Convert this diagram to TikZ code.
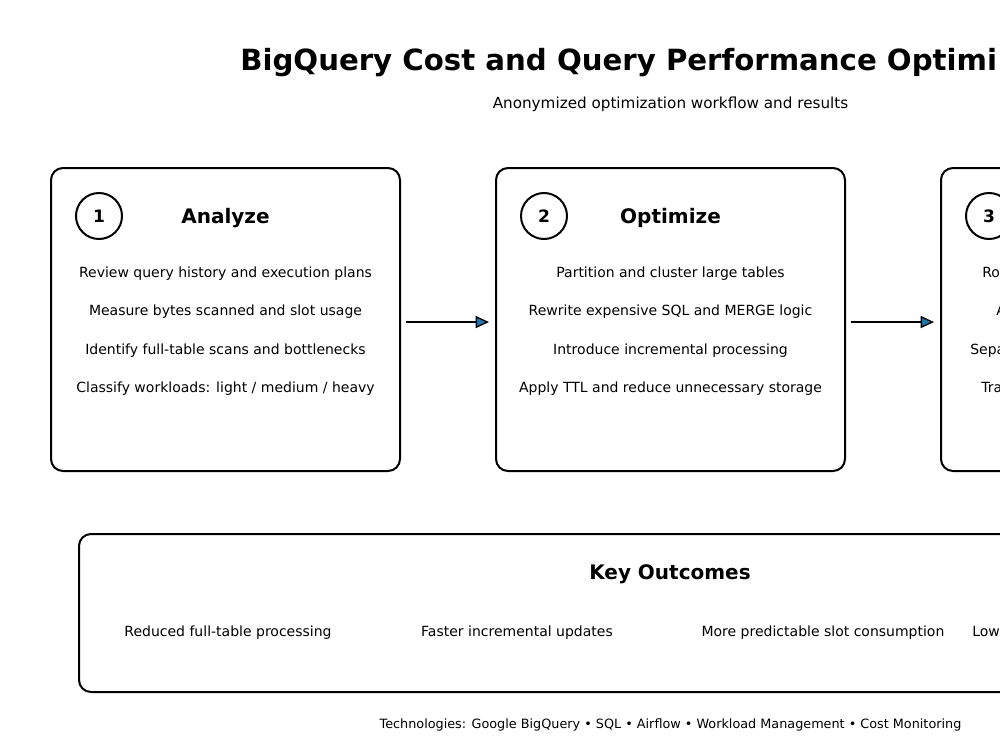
\documentclass[tikz,border=0pt]{standalone}
\usepackage{fontspec}
\setmainfont{DejaVu Sans}
\usetikzlibrary{arrows.meta}

\definecolor{tipblue}{HTML}{1F77B4}

\tikzset{
    stagebox/.style={draw, line width=1.5pt, rounded corners=9pt, minimum width=261.75pt, minimum height=227.25pt, inner sep=0pt},
    numcircle/.style={draw, circle, line width=1.5pt, minimum size=34.5pt, inner sep=0pt, font=\fontsize{12.8}{15}\selectfont\bfseries},
    headtext/.style={font=\fontsize{15}{18}\selectfont\bfseries},
    itemtext/.style={font=\fontsize{10.5}{12}\selectfont, text height=8pt, text depth=2.4pt},
    flow/.style={line width=1.5pt, -{Triangle[length=10pt, width=9pt, fill=tipblue, line width=1pt]}}
}

\begin{document}
\begin{tikzpicture}[x=0.75pt, y=-0.75pt]

        \useasboundingbox (0,0) rectangle (1000,750);
        \clip (0,0) rectangle (1000,750);

        \node [anchor=west, inner xsep=0pt, font=\fontsize{21.9}{26}\selectfont\bfseries] (title) at (240,63) {BigQuery Cost and Query Performance Optimi};
        \node [font=\fontsize{11.4}{14}\selectfont] (subtitle) at (670.5,104) {Anonymized optimization workflow and results};

        % stage boxes
        \node [stagebox] (analyze) at (225.5,319.5) {};
        \node [stagebox] (optimize) at (670.5,319.5) {};
        \node [stagebox] (third) at (1115.5,319.5) {};

        \node [numcircle] (n1) at (99,216) {1};
        \node [numcircle] (n2) at (544,216) {2};
        \node [numcircle] (n3) at (989,216) {3};

        \node [headtext] (h1) at (225.5,218) {Analyze};
        \node [headtext] (h2) at (670.5,218) {Optimize};

        \node [itemtext] (a1) at (225.5,274) {Review query history and execution plans};
        \node [itemtext] (a2) at (225.5,312) {Measure bytes scanned and slot usage};
        \node [itemtext] (a3) at (225.5,351) {Identify full-table scans and bottlenecks};
        \node [itemtext] (a4) at (225.5,389) {Classify workloads: light / medium / heavy};

        \node [itemtext] (o1) at (670.5,274) {Partition and cluster large tables};
        \node [itemtext] (o2) at (670.5,312) {Rewrite expensive SQL and MERGE logic};
        \node [itemtext] (o3) at (670.5,351) {Introduce incremental processing};
        \node [itemtext] (o4) at (670.5,389) {Apply TTL and reduce unnecessary storage};

        \node [itemtext, anchor=west, inner xsep=0pt] (t1) at (982,274) {Ro};
        \node [itemtext, anchor=west, inner xsep=0pt] (t2) at (996,312) {A};
        \node [itemtext, anchor=west, inner xsep=0pt] (t3) at (970,351) {Sepa};
        \node [itemtext, anchor=west, inner xsep=0pt] (t4) at (981,389) {Tra};

        % arrows between stages
        \draw [flow] ([xshift=3.75pt, yshift=-1.9pt]analyze.east) -- ([xshift=-4.5pt, yshift=-1.9pt]optimize.west);
        \draw [flow] ([xshift=3.75pt, yshift=-1.9pt]optimize.east) -- ([xshift=-4.5pt, yshift=-1.9pt]third.west);

        % outcomes
        \node [stagebox, minimum width=886.5pt, minimum height=118.5pt] (outcomes) at (670,613) {};
        \node [headtext] (keyout) at (670,574) {Key Outcomes};
        \node [itemtext] (r1) at (228,633) {Reduced full-table processing};
        \node [itemtext] (r2) at (517,633) {Faster incremental updates};
        \node [itemtext] (r3) at (823,633) {More predictable slot consumption};
        \node [itemtext, anchor=west, inner xsep=0pt] (r4) at (972,633) {Low};

        \node [font=\fontsize{9.6}{11}\selectfont] (tech) at (670.5,725) {Technologies: Google BigQuery • SQL • Airflow • Workload Management • Cost Monitoring};

    \end{tikzpicture}
\end{document}
